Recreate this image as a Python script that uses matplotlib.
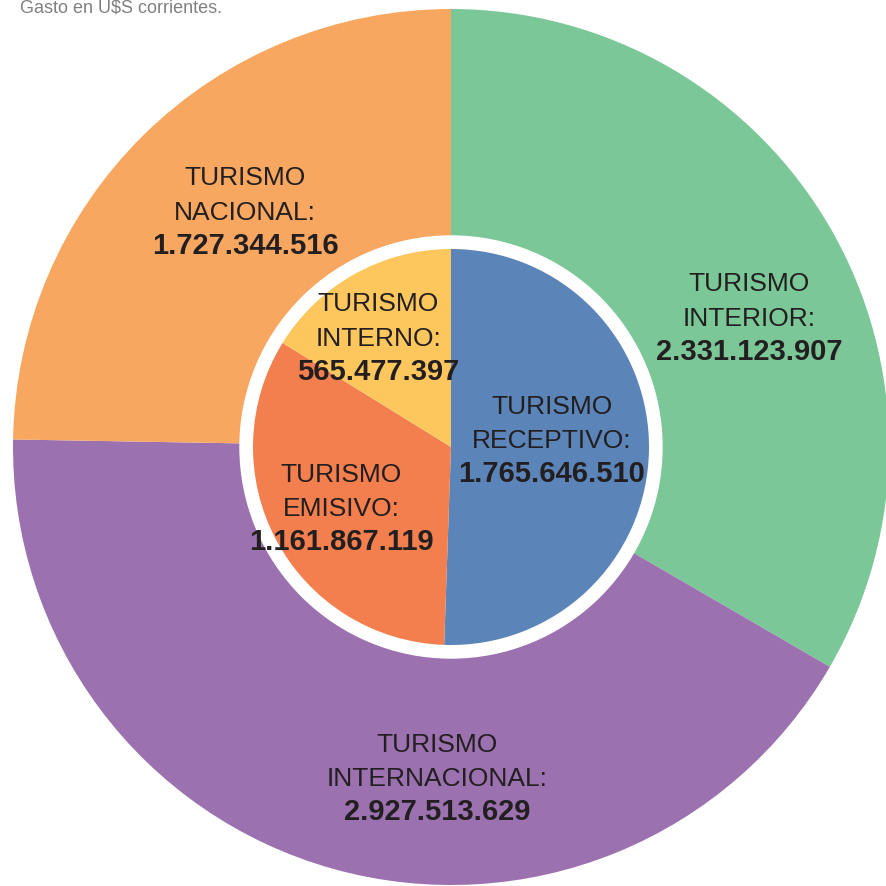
"""
Gasto turistico: anillo exterior (interior / internacional / nacional)
y torta interior (receptivo / emisivo / interno). Gasto en U$S corrientes.
"""
import matplotlib
matplotlib.use("Agg")
import matplotlib.pyplot as plt
from matplotlib.patches import Circle

# ---------------------------------------------------------------- data
outer_labels = ["INTERIOR:", "INTERNACIONAL:", "NACIONAL:"]
outer_values = [2331123907, 2927513629, 1727344516]
outer_colors = ["#7BC798", "#9B71B0", "#F7A760"]

inner_labels = ["RECEPTIVO:", "EMISIVO:", "INTERNO:"]
inner_values = [1765646510, 1161867119, 565477397]
inner_colors = ["#5B84B8", "#F37E4E", "#FDC75E"]

# label anchor (x, cap-centre y of first line, from top), layout only
outer_pos = [(749, 282), (437, 743), (245, 176)]
inner_pos = [(552, 405), (341, 473), (378, 302)]

W, H = 886, 887
CX, CY = 451, H - 448
R_OUT, R_RING, R_IN = 438, 211, 198
TXT = "#231F20"


def fmt(v):
    return f"{v:,}".replace(",", ".")


fig = plt.figure(figsize=(W / 100, H / 100), dpi=100)
ax = fig.add_axes([0, 0, 1, 1])

ax.pie(outer_values, colors=outer_colors, startangle=90, counterclock=False,
       center=(CX, CY), radius=R_OUT, wedgeprops=dict(linewidth=0))
ax.add_patch(Circle((CX, CY), R_RING, color="white", zorder=3))
wedges, _ = ax.pie(inner_values, colors=inner_colors, startangle=90,
                   counterclock=False, center=(CX, CY), radius=R_IN,
                   wedgeprops=dict(linewidth=0))
for w in wedges:
    w.set_zorder(4)

ax.set_xlim(0, W)
ax.set_ylim(0, H)
ax.set_aspect("equal")
ax.axis("off")


def label(pos, name, value):
    x, y = pos
    kw = dict(ha="center", va="baseline", family="Liberation Sans",
              color=TXT, zorder=6)
    ax.text(x, H - (y + 9), "TURISMO", fontsize=19, **kw)
    ax.text(x, H - (y + 34.5 + 9), name, fontsize=19, **kw)
    ax.text(x, H - (y + 67 + 10.5), fmt(value), fontsize=21,
            fontweight="bold", **kw)


for p, t, v in zip(outer_pos, outer_labels, outer_values):
    label(p, t, v)
for p, t, v in zip(inner_pos, inner_labels, inner_values):
    label(p, t, v)

ax.text(20, H - 12, "Gasto en U$S corrientes.", ha="left", va="baseline",
        fontsize=13, family="Liberation Sans", color="#808080", zorder=6)

fig.savefig("out.png", dpi=100)
